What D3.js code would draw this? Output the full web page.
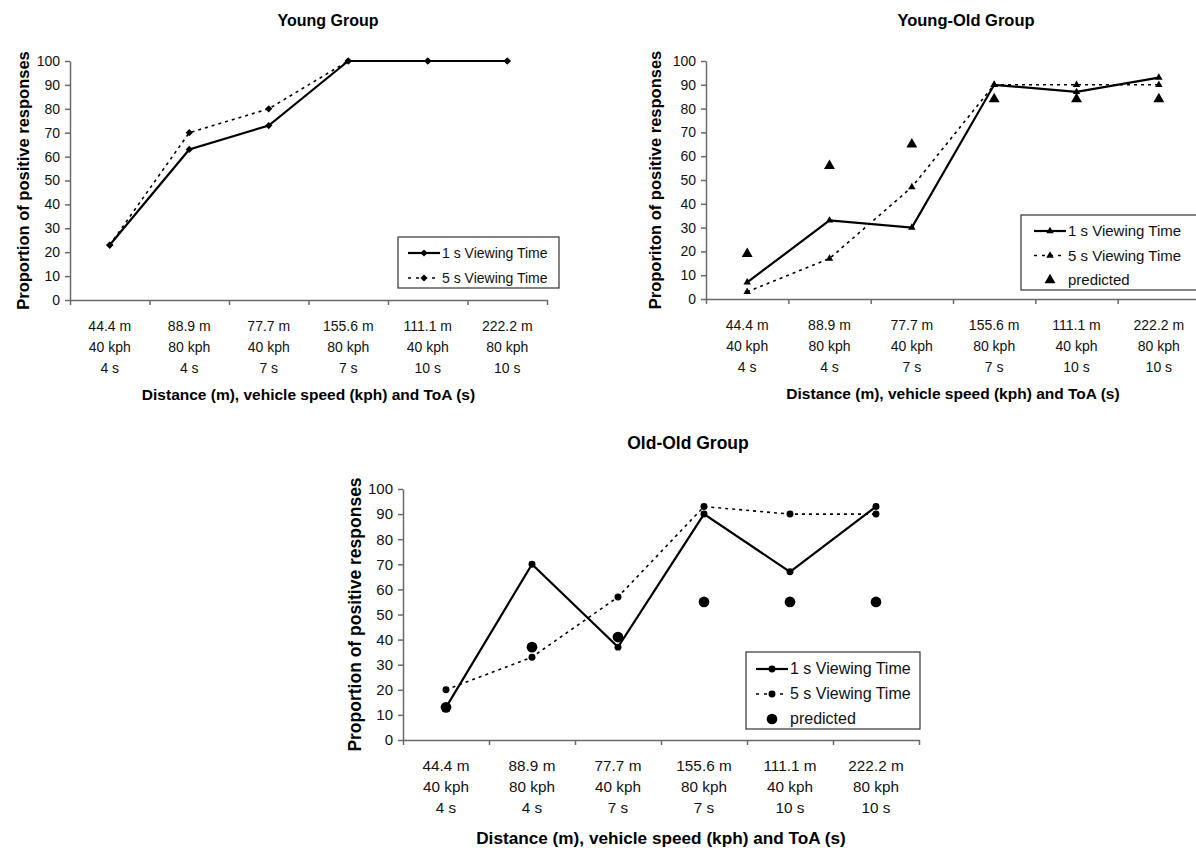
<!DOCTYPE html>
<html>
<head>
<meta charset="utf-8">
<script src="https://cdn.jsdelivr.net/npm/d3@7"></script>
<style>
  body { margin: 0; background: #fff; }
  svg { display: block; font-family: Arial, "Liberation Sans", sans-serif; }
  .tick text { fill: #111; }
  .domain, .tick line { stroke: #6a6a6a; }
</style>
</head>
<body>
<svg id="chart" width="1196" height="848"></svg>
<script>
// Data
var categories = [
  ["44.4 m", "40 kph", "4 s"],
  ["88.9 m", "80 kph", "4 s"],
  ["77.7 m", "40 kph", "7 s"],
  ["155.6 m", "80 kph", "7 s"],
  ["111.1 m", "40 kph", "10 s"],
  ["222.2 m", "80 kph", "10 s"]
];
var yTicks = [0, 10, 20, 30, 40, 50, 60, 70, 80, 90, 100];
var seriesNames = ["1 s Viewing Time", "5 s Viewing Time", "predicted"];

var youngOneSec = [23, 63, 73, 100, 100, 100];
var youngFiveSec = [23, 70, 80, 100, 100, 100];

var youngOldOneSec = [7, 33, 30, 90, 87, 93];
var youngOldFiveSec = [3, 17, 47, 90, 90, 90];
var youngOldPredicted = [19, 56, 65, 84, 84, 84];

var oldOldOneSec = [13, 70, 37, 90, 67, 93];
var oldOldFiveSec = [20, 33, 57, 93, 90, 90];
var oldOldPredicted = [13, 37, 41, 55, 55, 55];

var xTitle = "Distance (m), vehicle speed (kph) and ToA (s)";

var svg = d3.select("#chart");

function marker(shape, big) {
  if (shape === "diamond") return d3.symbol().type(d3.symbolSquare).size(26)();
  if (shape === "triangle") return d3.symbol().type(d3.symbolTriangle).size(big ? 52 : 24)();
  return d3.symbol().type(d3.symbolCircle).size(big ? 90 : 38)();
}
function markerRot(shape) {
  return shape === "diamond" ? " rotate(45)" : "";
}

function drawPanel(p) {
  var g = svg.append("g");
  var f = p.fonts;

  var x = d3.scaleBand().domain(d3.range(categories.length)).range([p.left, p.right]);
  var xEdge = d3.scaleLinear().domain([0, categories.length]).range([p.left, p.right]);
  var y = d3.scaleLinear().domain([0, 100]).range([p.bottom, p.top]);

  // axes
  g.append("g")
      .attr("transform", "translate(" + p.left + ",0)")
      .call(d3.axisLeft(y).tickValues(yTicks).tickSize(5).tickPadding(5).tickSizeOuter(0))
      .selectAll("text").style("font-size", f.tick + "px");
  g.append("g")
      .attr("transform", "translate(0," + p.bottom + ")")
      .call(d3.axisBottom(xEdge).tickValues(d3.range(categories.length + 1)).tickFormat("").tickSize(5).tickSizeOuter(0));
  g.selectAll(".domain, .tick line").attr("stroke-width", 1.5);

  // category labels, three lines each
  var lab = g.selectAll("text.cat")
      .data(categories)
    .enter().append("text")
      .attr("class", "cat")
      .attr("text-anchor", "middle")
      .style("font-size", f.cat + "px")
      .attr("fill", "#111");
  lab.selectAll("tspan")
      .data(function(d, i) { return d.map(function(s) { return { s: s, i: i }; }); })
    .enter().append("tspan")
      .attr("x", function(d) { return x(d.i) + x.bandwidth() / 2; })
      .attr("y", function(d, j) { return p.bottom + 31 + j * 21; })
      .text(function(d) { return d.s; });

  // titles
  g.append("text")
      .attr("x", p.titleX).attr("y", p.titleY)
      .attr("text-anchor", "middle")
      .style("font-size", f.title + "px").style("font-weight", "bold")
      .text(p.title);
  g.append("text")
      .attr("x", (p.left + p.right) / 2).attr("y", p.bottom + p.xTitleGap)
      .attr("text-anchor", "middle")
      .style("font-size", f.xTitle + "px").style("font-weight", "bold")
      .text(xTitle);
  g.append("text")
      .attr("transform", "translate(" + (p.yTitleX) + "," + ((p.top + p.bottom) / 2) + ") rotate(-90)")
      .attr("text-anchor", "middle")
      .style("font-size", f.yTitle + "px").style("font-weight", "bold")
      .text(p.yTitle);

  var line = d3.line()
      .x(function(d, i) { return x(i) + x.bandwidth() / 2; })
      .y(function(d) { return y(d); });

  // predicted drawn first, lines on top
  if (p.predicted) {
    g.selectAll("path.pred")
        .data(p.predicted)
      .enter().append("path")
        .attr("class", "pred")
        .attr("d", marker(p.shape, true))
        .attr("transform", function(d, i) { return "translate(" + (x(i) + x.bandwidth() / 2) + "," + y(d) + ")"; });
  }

  [p.five, p.one].forEach(function(vals, k) {
    var dashed = k === 0;
    g.append("path")
        .datum(vals)
        .attr("fill", "none")
        .attr("stroke", "#000")
        .attr("stroke-width", dashed ? 1.6 : 2.2)
        .attr("stroke-dasharray", dashed ? "3,4" : null)
        .attr("d", line);
    g.selectAll("path.m" + k)
        .data(vals)
      .enter().append("path")
        .attr("class", "m" + k)
        .attr("d", marker(p.shape, false))
        .attr("transform", function(d, i) { return "translate(" + (x(i) + x.bandwidth() / 2) + "," + y(d) + ")" + markerRot(p.shape); });
  });

  // legend (positions inside the box)
  var L = p.legend;
  var rows = p.predicted ? 3 : 2;
  var lg = g.append("g").attr("transform", "translate(" + L.x + "," + L.y + ")");
  lg.append("rect")
      .attr("width", L.w).attr("height", L.h)
      .attr("fill", "#fff").attr("stroke", "#333").attr("stroke-width", 1.2);
  for (var r = 0; r < rows; r++) {
    var ry = L.first + r * L.step;
    if (r < 2) {
      lg.append("line")
          .attr("x1", L.pad).attr("x2", L.pad + 32)
          .attr("y1", ry).attr("y2", ry)
          .attr("stroke", "#000")
          .attr("stroke-width", r === 0 ? 2.2 : 1.6)
          .attr("stroke-dasharray", r === 1 ? "3,5" : null);
    }
    lg.append("path")
        .attr("d", marker(p.shape, r === 2))
        .attr("transform", "translate(" + (L.pad + 16) + "," + ry + ")" + (r < 2 ? markerRot(p.shape) : ""));
    lg.append("text")
        .attr("x", L.pad + 34).attr("y", ry + 5)
        .style("font-size", f.legend + "px").attr("fill", "#111")
        .text(seriesNames[r]);
  }
}

drawPanel({
  title: "Young Group", titleX: 328, titleY: 26,
  yTitle: "Proportion of positive responses", yTitleX: 29,
  left: 70, right: 547, top: 61, bottom: 300, xTitleGap: 100,
  fonts: { tick: 14, cat: 14, legend: 14, title: 16, xTitle: 15.5, yTitle: 16.5 },
  shape: "diamond", one: youngOneSec, five: youngFiveSec,
  legend: { x: 398, y: 237, w: 161, h: 51, pad: 10, first: 16, step: 25 }
});

drawPanel({
  title: "Young-Old Group", titleX: 966, titleY: 26,
  yTitle: "Proporiton of positive responses", yTitleX: 661,
  left: 706, right: 1200, top: 61, bottom: 299, xTitleGap: 100,
  fonts: { tick: 14, cat: 14, legend: 15, title: 16.5, xTitle: 15.5, yTitle: 16.5 },
  shape: "triangle", one: youngOldOneSec, five: youngOldFiveSec, predicted: youngOldPredicted,
  legend: { x: 1021, y: 215, w: 177, h: 75, pad: 13, first: 16, step: 24.5 }
});

drawPanel({
  title: "Old-Old Group", titleX: 688, titleY: 449,
  yTitle: "Proportion of positive responses", yTitleX: 361,
  left: 403, right: 919, top: 489, bottom: 740, xTitleGap: 104,
  fonts: { tick: 15, cat: 15.3, legend: 16, title: 17.5, xTitle: 17.2, yTitle: 17.5 },
  shape: "circle", one: oldOldOneSec, five: oldOldFiveSec, predicted: oldOldPredicted,
  legend: { x: 746, y: 652, w: 174, h: 77, pad: 10, first: 17, step: 25 }
});
</script>
</body>
</html>
